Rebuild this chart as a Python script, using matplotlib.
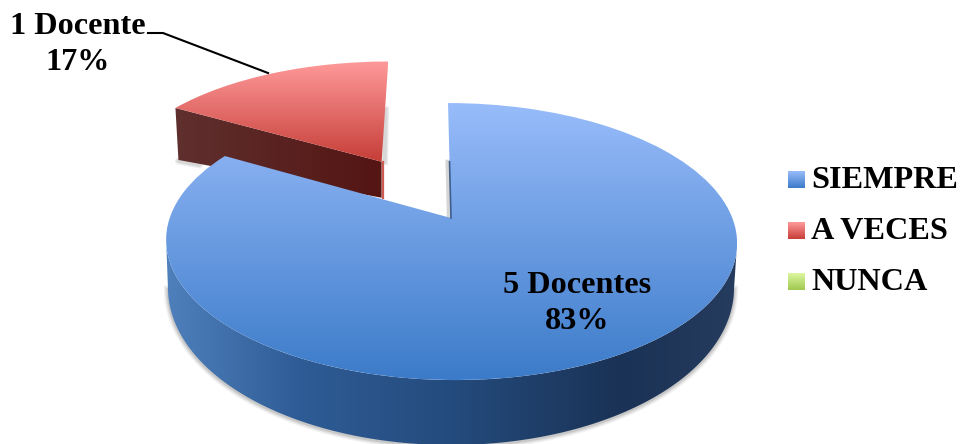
import numpy as np
import matplotlib
matplotlib.use("Agg")
import matplotlib.pyplot as plt
from matplotlib.colors import LinearSegmentedColormap
from matplotlib.patches import Polygon
from matplotlib.transforms import Transform

categories = ["SIEMPRE", "A VECES", "NUNCA"]
values = [5, 1, 0]
slice_labels = ["5 Docentes", "1 Docente", None]
explode = [0, 0.52, 0]

W, H = 963, 444
TOP_GRAD = {
    "SIEMPRE": ["#98bcfa", "#3c7bc9"],
    "A VECES": ["#ff9a9a", "#c63e38"],
    "NUNCA": ["#dcf7a0", "#a0c850"],
}
BLUE_SIDE = [(0.0, "#4f80bc"), (0.23, "#2f5c96"), (0.5, "#244b7d"),
             (0.8, "#1a3255"), (1.0, "#263c5f")]
RED_SIDE = ["#5f302e", "#541513"]


class Persp(Transform):
    """Tilted-disc view of the unit pie, in pixel coordinates."""
    input_dims = output_dims = 2
    is_separable = False
    has_inverse = False

    def __init__(self, x0, y0, A, B, k, s):
        super().__init__()
        self.p = (x0, y0, A, B, k, s)

    def transform_non_affine(self, xy):
        xy = np.asarray(xy, float)
        x0, y0, A, B, k, s = self.p
        u, v = xy[:, 0], xy[:, 1]
        w = 1 + k * v
        return np.column_stack([x0 + (A * u - s * v) / w, y0 - B * v / w])


top = Persp(451, 218, 281.3, 134.5, 0.17, 3.5)
bottom = Persp(451, 261.3, 278.9, 152.5, 0.17, 0)

fig = plt.figure(figsize=(W / 100, H / 100), dpi=100)
ax = fig.add_axes([0, 0, 1, 1])
wedges, _ = ax.pie(values, startangle=90, counterclock=False, explode=explode, radius=1)
ax.set_aspect("auto")
for w in wedges:
    w.set_facecolor("none")
    w.set_edgecolor("none")
    w.set_linewidth(0)
    w.set_transform(top + ax.transData)
ax.set_xlim(0, W)
ax.set_ylim(H, 0)
ax.axis("off")


def gradient(clip, stops, extent, horizontal=False, z=1):
    cmap = LinearSegmentedColormap.from_list("g", stops)
    g = np.linspace(0, 1, 256)
    arr = g[None, :] if horizontal else g[:, None]
    im = ax.imshow(arr, cmap=cmap, vmin=0, vmax=1, aspect="auto",
                   extent=extent, origin="upper", zorder=z, interpolation="bilinear")
    im.set_clip_path(clip)
    return im


def poly(pts, z=1):
    p = Polygon(pts, closed=True, facecolor="none", edgecolor="none",
                transform=ax.transData, zorder=z)
    ax.add_patch(p)
    return p


def arc(w):
    t = np.radians(np.linspace(w.theta1, w.theta2, 200))
    c = np.array(w.center)
    return top.transform_non_affine(c + np.column_stack([np.cos(t), np.sin(t)]))


def bbox(pts):
    return (pts[:, 0].min(), pts[:, 0].max(), pts[:, 1].max(), pts[:, 1].min())


blue, red = wedges[0], wedges[1]
red_c = np.array(red.center)

# exploded slice: cut face and top
t_left = np.radians(red.theta2)
corner = top.transform_non_affine((red_c + [np.cos(t_left), np.sin(t_left)])[None, :])[0]
apex = top.transform_non_affine(red_c[None, :])[0]
depth_left, depth_apex = 52, 36
face = np.array([corner, apex, apex + [0, depth_apex], corner + [3, depth_left]])
# soft shadow round the red slice
for lw, a in [(5, 0.10), (3, 0.14)]:
    ax.plot([corner[0] + 3, corner[0] + 24], [corner[1] + depth_left + 1, corner[1] + depth_left + 5],
            color="#555555", alpha=a, lw=lw, zorder=0.5, solid_capstyle="round")
    ax.plot([apex[0] + 4, apex[0] + 3], [apex[1] - 52, apex[1]],
            color="#555555", alpha=a, lw=lw, zorder=0.5)
gradient(poly(face, 1), RED_SIDE, bbox(face), horizontal=True, z=1)
ax.plot([apex[0] + 1, apex[0] + 1], [apex[1], apex[1] + depth_apex],
        color="#cf5a52", lw=1.6, zorder=1.1)
red_pts = np.vstack([arc(red), apex])
gradient(red, TOP_GRAD["A VECES"], bbox(red_pts), z=1.2)

# main slice: rim
t = np.radians(np.linspace(0, 360, 721))
circ = np.column_stack([np.cos(t), np.sin(t)])


def front(tr):
    pts = tr.transform_non_affine(circ)
    i0, i1 = pts[:, 0].argmin(), pts[:, 0].argmax()
    idx = np.arange(i0, i1 + 721) % 721
    idx = idx[:np.where(idx == i1)[0][0] + 1]
    return pts[idx]


rim_top, rim_bot = front(top), front(bottom)
rim = np.vstack([rim_top, rim_bot[::-1]])
for lw, a in [(6, 0.07), (4, 0.10), (2, 0.15)]:
    ax.plot(rim_bot[:, 0], rim_bot[:, 1] + 1, color="#444444", alpha=a, lw=lw, zorder=1.5)
gradient(poly(rim, 2), BLUE_SIDE, bbox(rim), horizontal=True, z=2)

# main slice: top
blue_pts = np.vstack([arc(blue), top.transform_non_affine(np.array([[0.0, 0.0]]))])
b_apex = blue_pts[-1]
b_up = top.transform_non_affine(np.array([[0.0, 0.45]]))[0]
ax.plot([b_up[0] - 2, b_apex[0] - 2], [b_up[1], b_apex[1]], color="#777777", alpha=0.3, lw=3, zorder=2.5)
gradient(blue, TOP_GRAD["SIEMPRE"], bbox(blue_pts), z=3)
ax.plot([b_up[0], b_apex[0]], [b_up[1], b_apex[1]], color="#3f5f8c", lw=1.2, zorder=3.1)

# labels
font = dict(family="Liberation Serif", fontweight="bold", color="black", fontsize=23.2, ha="center", va="center")
total = sum(values)
ax.text(577, 285, slice_labels[0], zorder=5, **font)
ax.text(577, 321, f"{values[0] / total:.0%}", zorder=5, **font)
ax.text(78, 27, slice_labels[1], zorder=5, **font)
ax.text(78, 62, f"{values[1] / total:.0%}", zorder=5, **font)
ax.plot([148, 163, 268], [33, 33, 73], color="black", lw=1.5, zorder=5)

# legend
for name, yc in zip(categories, [179.5, 230.5, 281.5]):
    ext = (788, 805, yc + 8.5, yc - 8.5)
    cmap = LinearSegmentedColormap.from_list("g", TOP_GRAD[name])
    ax.imshow(np.linspace(0, 1, 64)[:, None], cmap=cmap, aspect="auto", extent=ext,
              origin="upper", zorder=5)
    ax.text(811, yc + 0.5, name, family="Liberation Serif", fontweight="bold", fontsize=23.2,
            ha="left", va="center", color="black", zorder=5)

ax.set_xlim(0, W)
ax.set_ylim(H, 0)
fig.savefig("out.png", dpi=100, facecolor="white")
